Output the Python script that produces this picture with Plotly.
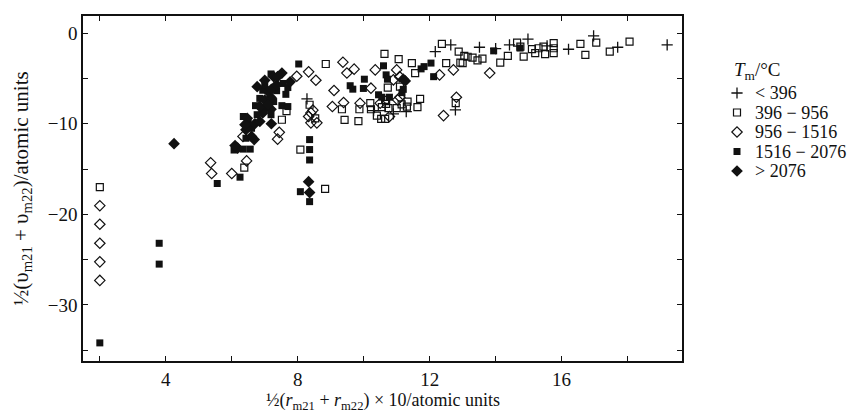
import plotly.graph_objects as go

# ---------------- data ----------------
x_major = [4, 8, 12, 16]
x_major_text = ["4", "8", "12", "16"]
x_minor = [2, 6, 10, 14, 18]
y_major = [0, -10, -20, -30]
y_major_text = ["0", "−10", "−20", "−30"]
y_minor = [-5, -15, -25, -35]

series_names = ["&lt; 396", "396 − 956", "956 − 1516", "1516 − 2076", "&gt; 2076"]

plus_x = [8.28, 10.3, 10.9, 11.29, 12.78, 12.17, 12.64, 13.51, 14.0, 14.42, 14.98, 15.56,
          16.21, 16.97, 17.7, 19.2]
plus_y = [-7.25, -8.54, -8.9, -8.65, -8.47, -2.03, -1.29, -1.55, -1.7, -1.29, -0.66, -1.4,
          -1.77, -0.3, -1.55, -1.29]

sqo_x = [2.0, 6.38, 7.52, 7.66, 8.36, 8.53, 8.08, 8.83, 8.85, 9.34, 9.42, 9.84, 9.87, 10.2,
         10.22, 10.55, 10.65, 10.68, 10.75, 10.53, 10.65, 10.73, 11.0, 11.33, 11.31, 11.63,
         11.71, 11.15, 10.4, 12.79, 10.63, 11.06, 11.1, 11.46, 11.56, 12.37, 12.88, 12.93,
         12.5, 13.0, 13.05, 13.15, 13.3, 13.45, 13.6, 14.14, 14.37, 14.65, 14.75, 14.85, 15.1,
         15.2, 15.3, 15.45, 15.5, 15.76, 15.76, 15.76, 16.57, 16.72, 17.05, 17.46, 18.06]
sqo_y = [-17.0, -14.85, -9.56, -8.6, -7.9, -9.4, -12.85, -17.2, -3.4, -8.4, -9.57, -9.7, -8.4,
         -7.73, -8.4, -8.17, -7.36, -7.8, -8.28, -9.46, -9.46, -6.0, -8.28, -7.55, -8.1, -8.17,
         -7.25, -7.85, -9.1, -7.73, -2.28, -2.87, -5.9, -3.3, -4.4, -1.18, -2.03, -3.24, -3.3,
         -3.3, -2.5, -2.6, -2.7, -3.0, -2.8, -3.24, -2.5, -1.04, -1.48, -2.58, -1.75, -2.2,
         -1.66, -1.48, -2.3, -1.1, -1.66, -2.2, -1.18, -2.4, -1.04, -2.03, -0.93]

dio_x = [2.0, 2.0, 2.0, 2.0, 2.0, 5.36, 5.39, 6.0, 6.45, 6.34, 7.44, 7.39, 7.97, 8.33, 8.55,
         8.4, 8.33, 8.4, 8.58, 8.46, 9.37, 9.49, 9.71, 9.1, 10.22, 10.35, 11.0, 11.09, 10.9,
         9.05, 9.39, 9.89, 10.5, 11.03, 11.1, 10.78, 12.42, 12.81, 12.3, 12.72, 13.82]
dio_y = [-19.05, -21.1, -23.2, -25.25, -27.3, -14.3, -15.5, -15.5, -14.1, -11.4, -10.95, -11.7,
         -4.75, -4.27, -5.2, -8.8, -9.2, -9.9, -9.9, -8.5, -3.2, -4.4, -3.97, -6.33, -6.07,
         -4.05, -4.05, -4.8, -5.15, -8.1, -7.66, -7.73, -7.73, -7.36, -7.07, -9.2, -9.1, -7.07,
         -4.6, -4.05, -4.4]

sqf_x = [2.0, 3.8, 3.8, 5.56, 6.25, 6.07, 6.35, 6.56, 6.43, 6.6, 6.5, 6.35, 6.77, 6.72, 7.0,
         7.52, 7.7, 6.85, 7.27, 6.94, 7.36, 7.0, 7.56, 7.7, 7.64, 7.19, 7.19, 8.03, 8.36, 8.36,
         8.36, 8.08, 8.36, 9.59, 9.67, 10.02, 9.99, 10.6, 10.68, 10.72, 10.45, 10.55, 10.78,
         11.16, 11.2, 11.74, 11.83, 12.04, 12.12, 13.94, 14.74]
sqf_y = [-34.2, -23.2, -25.5, -16.6, -15.9, -12.9, -12.8, -12.8, -11.6, -10.5, -9.9, -9.2, -9.0,
         -8.0, -8.3, -8.0, -8.1, -7.2, -7.55, -6.3, -6.35, -5.7, -5.55, -6.0, -6.75, -9.0, -4.5,
         -3.4, -11.75, -12.85, -14.0, -17.5, -18.6, -5.8, -6.18, -5.08, -6.1, -3.6, -4.6, -5.08,
         -6.8, -7.07, -7.07, -6.56, -6.2, -3.94, -3.69, -3.3, -4.8, -1.95, -1.64]

dif_x = [4.25, 8.33, 8.36, 6.18, 6.1, 6.68, 6.43, 6.7, 6.85, 7.2, 6.47, 6.94, 6.85, 7.19, 7.0,
         7.19, 7.1, 7.2, 6.77, 7.36, 7.77, 7.27, 7.52, 7.0, 7.1, 7.39, 6.6, 6.4, 11.2, 11.26]
dif_y = [-12.2, -16.4, -17.6, -12.7, -12.4, -11.75, -10.65, -10.0, -9.75, -10.0, -9.4, -8.8,
         -8.1, -8.4, -7.4, -7.1, -6.45, -6.2, -5.9, -5.7, -5.37, -4.8, -4.4, -5.2, -7.9, -4.8,
         -11.4, -10.1, -5.08, -5.27]

# ---------------- styles ----------------
INK = "#111111"
FONT = "'Liberation Serif', 'Times New Roman', serif"
styles = [
    dict(symbol="cross-thin", size=8, color=INK, line=dict(width=1.3, color=INK)),
    dict(symbol="square-open", size=7, color=INK, line=dict(width=1.2, color=INK)),
    dict(symbol="diamond-open", size=8, color=INK, line=dict(width=1.2, color=INK)),
    dict(symbol="square", size=7, color=INK, line=dict(width=0, color=INK)),
    dict(symbol="diamond", size=9, color=INK, line=dict(width=0, color=INK)),
]
data = [(plus_x, plus_y), (sqo_x, sqo_y), (dio_x, dio_y), (sqf_x, sqf_y), (dif_x, dif_y)]

fig = go.Figure()
for (xs, ys), st, nm in zip(data, styles, series_names):
    fig.add_trace(go.Scatter(x=xs, y=ys, mode="markers", marker=st, name=nm,
                             showlegend=False, xaxis="x", yaxis="y"))

# ---------------- geometry ----------------
W, H = 864, 414
ML, MR, MT, MB = 83, 0, 16, 53
plot_right = 682
pw = W - ML - MR
ph = H - MT - MB
dom_main = (plot_right - ML) / pw
leg_x0 = 690
dom_leg0 = (leg_x0 - ML) / pw

# ---------------- manual legend (hidden pixel axis) ----------------
leg_rows = [93, 112.5, 132, 151.5, 171]
for st, nm, ry in zip(styles, series_names, leg_rows):
    fig.add_trace(go.Scatter(x=[737], y=[ry], mode="markers", marker=st, showlegend=False,
                             xaxis="x2", yaxis="y2", hoverinfo="skip"))
    fig.add_annotation(x=753, y=ry, xref="x2", yref="y2", text=nm, showarrow=False,
                       xanchor="left", yanchor="middle",
                       font=dict(family=FONT, size=18, color=INK))
fig.add_annotation(x=757, y=71, xref="x2", yref="y2", text="<i>T</i><sub>m</sub>/°C",
                   showarrow=False, xanchor="center", yanchor="middle",
                   font=dict(family=FONT, size=19, color=INK))

# ---------------- axis titles ----------------
fig.add_annotation(x=((ML + plot_right) / 2 - ML) / pw, y=(H - MB - 402) / ph,
                   xref="paper", yref="paper", showarrow=False,
                   xanchor="center", yanchor="middle",
                   text="½(<i>r</i><sub>m21</sub> + <i>r</i><sub>m22</sub>) × 10/atomic units",
                   font=dict(family=FONT, size=18, color=INK))
fig.add_annotation(x=(21 - ML) / pw, y=0.5, xref="paper", yref="paper", showarrow=False,
                   xanchor="center", yanchor="middle", textangle=-90,
                   text="½(υ<sub>m21</sub> + υ<sub>m22</sub>)/atomic units",
                   font=dict(family=FONT, size=21, color=INK))

axis_common = dict(showline=True, linecolor=INK, linewidth=1.5, mirror="ticks",
                   ticks="inside", ticklen=5, tickwidth=1.2, tickcolor=INK,
                   showgrid=False, zeroline=False, automargin=False,
                   tickfont=dict(family=FONT, size=19, color=INK))

fig.update_layout(
    template="none",
    width=W, height=H,
    margin=dict(l=ML, r=MR, t=MT, b=MB, autoexpand=False),
    paper_bgcolor="white", plot_bgcolor="white",
    font=dict(family=FONT, size=20, color=INK),
    xaxis=dict(domain=[0, dom_main], range=[1.49, 19.65], tickmode="array",
               tickvals=x_major, ticktext=x_major_text,
               minor=dict(tickmode="array", tickvals=x_minor, ticks="inside", ticklen=5,
                          tickwidth=1.2, tickcolor=INK, showgrid=False),
               **axis_common),
    yaxis=dict(range=[-36.2, 1.9], tickmode="array", tickvals=y_major, ticktext=y_major_text,
               minor=dict(tickmode="array", tickvals=y_minor, ticks="inside", ticklen=5,
                          tickwidth=1.2, tickcolor=INK, showgrid=False),
               **axis_common),
    xaxis2=dict(domain=[dom_leg0, 1], range=[leg_x0, W], visible=False, anchor="y2",
                fixedrange=True),
    yaxis2=dict(domain=[0, 1], range=[H - MB, MT], visible=False, anchor="x2",
                fixedrange=True),
    showlegend=False,
)

fig.write_html("out.html",
               config={"displayModeBar": False},
               post_script="document.body.style.margin='0';document.body.style.overflow='hidden';")
